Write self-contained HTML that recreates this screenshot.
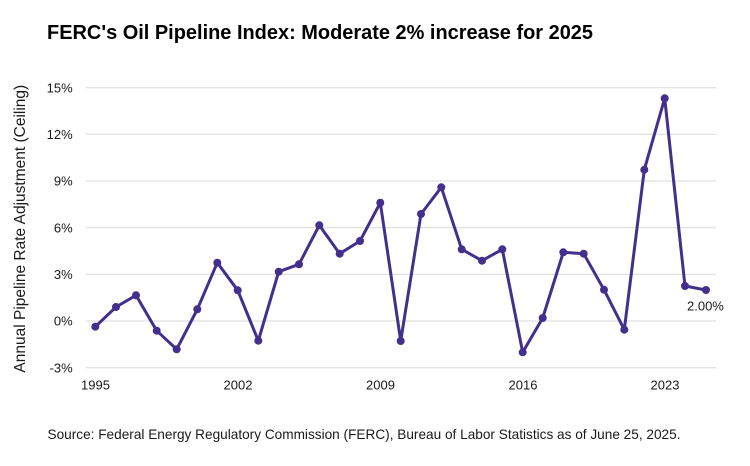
<!DOCTYPE html>
<html>
<head>
<meta charset="utf-8">
<style>
  html, body { margin: 0; padding: 0; background: #ffffff; }
  body { width: 750px; height: 466px; overflow: hidden; }
  svg { display: block; font-family: "Liberation Sans", Arial, sans-serif; }
</style>
</head>
<body>
<svg width="750" height="466" viewBox="0 0 750 466" xmlns="http://www.w3.org/2000/svg">
  <rect x="0" y="0" width="750" height="466" fill="#ffffff"/>
  <!-- Title -->
  <text x="47" y="39" font-size="20" font-weight="bold" fill="#000" textLength="546" lengthAdjust="spacingAndGlyphs">FERC's Oil Pipeline Index: Moderate 2% increase for 2025</text>

  <!-- Gridlines -->
  <g stroke="#d9d9d9" stroke-width="1">
    <line x1="86" y1="87.7" x2="716" y2="87.7"/>
    <line x1="86" y1="134.3" x2="716" y2="134.3"/>
    <line x1="86" y1="181" x2="716" y2="181"/>
    <line x1="86" y1="227.7" x2="716" y2="227.7"/>
    <line x1="86" y1="274.3" x2="716" y2="274.3"/>
    <line x1="86" y1="321" x2="716" y2="321"/>
    <line x1="86" y1="367.7" x2="716" y2="367.7"/>
  </g>

  <!-- Y tick labels -->
  <g font-size="13" fill="#1a1a1a" text-anchor="end">
    <text x="72.7" y="92.3">15%</text>
    <text x="72.7" y="139">12%</text>
    <text x="72.7" y="185.7">9%</text>
    <text x="72.7" y="232.3">6%</text>
    <text x="72.7" y="279">3%</text>
    <text x="72.7" y="325.7">0%</text>
    <text x="72.7" y="372.3">-3%</text>
  </g>

  <!-- X tick labels -->
  <g font-size="13" fill="#1a1a1a" text-anchor="middle">
    <text x="95.5" y="389.3">1995</text>
    <text x="238" y="389.3">2002</text>
    <text x="380.5" y="389.3">2009</text>
    <text x="523" y="389.3">2016</text>
    <text x="665" y="389.3">2023</text>
  </g>

  <!-- Y axis title -->
  <text x="0" y="0" font-size="15.5" fill="#1a1a1a" text-anchor="middle" transform="translate(25,228.7) rotate(-90)">Annual Pipeline Rate Adjustment (Ceiling)</text>

  <!-- Series -->
  <polyline fill="none" stroke="#42308c" stroke-width="3" stroke-linejoin="round" stroke-linecap="round"
    points="95.3,326.7 116,307 136,295.3 156.7,330.7 176.7,349.3 197.3,309.3 217.3,262.7 237.7,290.3 258.3,340.7 278.7,271.7 299,264.3 319.3,225.3 339.7,253.7 360,241 380.3,202.7 400.7,341 421,214 441.3,187.3 461.7,249.3 482,260.7 502.3,249.3 522.7,352.3 542.7,318 563.3,252.3 583.7,253.7 604,289.7 624.3,329.7 644.3,169.7 664.7,98.3 685,286 706,290"/>
  <g fill="#42308c">
    <circle cx="95.3" cy="326.7" r="4"/>
    <circle cx="116" cy="307" r="4"/>
    <circle cx="136" cy="295.3" r="4"/>
    <circle cx="156.7" cy="330.7" r="4"/>
    <circle cx="176.7" cy="349.3" r="4"/>
    <circle cx="197.3" cy="309.3" r="4"/>
    <circle cx="217.3" cy="262.7" r="4"/>
    <circle cx="237.7" cy="290.3" r="4"/>
    <circle cx="258.3" cy="340.7" r="4"/>
    <circle cx="278.7" cy="271.7" r="4"/>
    <circle cx="299" cy="264.3" r="4"/>
    <circle cx="319.3" cy="225.3" r="4"/>
    <circle cx="339.7" cy="253.7" r="4"/>
    <circle cx="360" cy="241" r="4"/>
    <circle cx="380.3" cy="202.7" r="4"/>
    <circle cx="400.7" cy="341" r="4"/>
    <circle cx="421" cy="214" r="4"/>
    <circle cx="441.3" cy="187.3" r="4"/>
    <circle cx="461.7" cy="249.3" r="4"/>
    <circle cx="482" cy="260.7" r="4"/>
    <circle cx="502.3" cy="249.3" r="4"/>
    <circle cx="522.7" cy="352.3" r="4"/>
    <circle cx="542.7" cy="318" r="4"/>
    <circle cx="563.3" cy="252.3" r="4"/>
    <circle cx="583.7" cy="253.7" r="4"/>
    <circle cx="604" cy="289.7" r="4"/>
    <circle cx="624.3" cy="329.7" r="4"/>
    <circle cx="644.3" cy="169.7" r="4"/>
    <circle cx="664.7" cy="98.3" r="4"/>
    <circle cx="685" cy="286" r="4"/>
    <circle cx="706" cy="290" r="4"/>
  </g>

  <!-- Data label -->
  <text x="687" y="310.7" font-size="13" fill="#1a1a1a">2.00%</text>

  <!-- Source -->
  <text x="47.5" y="439" font-size="13.6" fill="#1a1a1a" textLength="633" lengthAdjust="spacingAndGlyphs">Source: Federal Energy Regulatory Commission (FERC), Bureau of Labor Statistics as of June 25, 2025.</text>
</svg>
</body>
</html>
